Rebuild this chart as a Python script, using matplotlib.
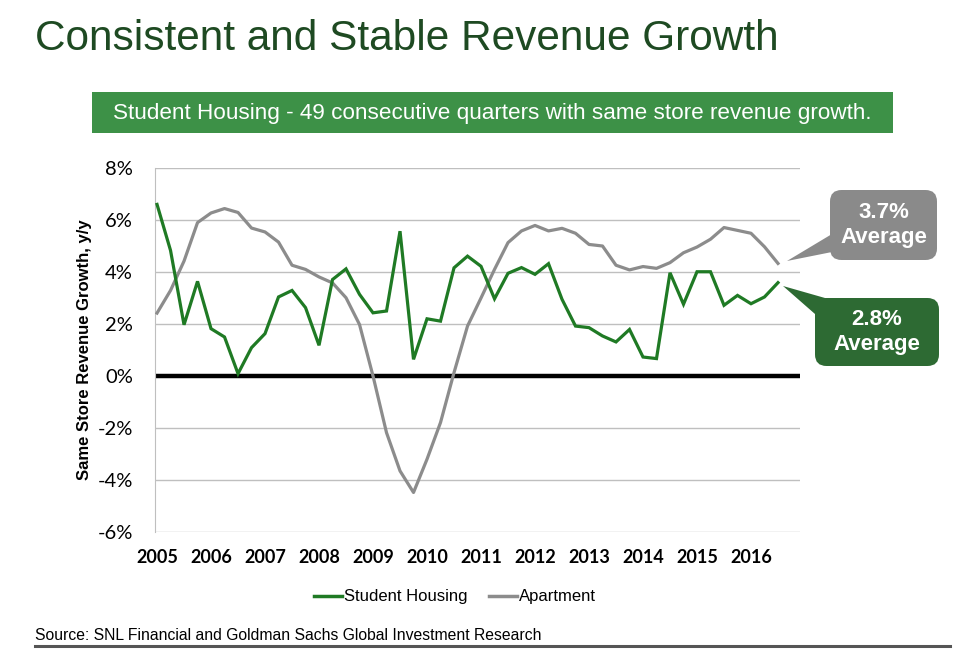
import numpy as np
import matplotlib
matplotlib.use('Agg')
import matplotlib.pyplot as plt
from matplotlib.patches import Rectangle, FancyBboxPatch, Polygon
from matplotlib.lines import Line2D
from matplotlib.ticker import FuncFormatter

# 数据：2005Q1 - 2016Q3 每季度同店收入增长 (%)
years = ['2005', '2006', '2007', '2008', '2009', '2010',
         '2011', '2012', '2013', '2014', '2015', '2016']

student_housing = [6.60, 4.83, 1.97, 3.64, 1.82, 1.50, 0.09, 1.09, 1.63, 3.04,
                   3.29, 2.63, 1.18, 3.71, 4.12, 3.14, 2.43, 2.50, 5.57, 0.64,
                   2.20, 2.11, 4.16, 4.61, 4.22, 2.97, 3.95, 4.17, 3.91, 4.32,
                   2.95, 1.92, 1.86, 1.54, 1.31, 1.79, 0.73, 0.67, 3.97, 2.76,
                   4.01, 4.01, 2.72, 3.10, 2.78, 3.04, 3.59]

apartment = [2.42, 3.29, 4.42, 5.90, 6.27, 6.44, 6.29, 5.69, 5.54, 5.15,
             4.26, 4.10, 3.81, 3.58, 3.01, 1.98, 0.00, -2.18, -3.65, -4.48,
             -3.20, -1.79, 0.13, 1.92, 3.00, 4.10, 5.13, 5.58, 5.79, 5.58,
             5.68, 5.49, 5.06, 5.00, 4.26, 4.08, 4.21, 4.14, 4.36, 4.74,
             4.96, 5.26, 5.71, 5.60, 5.49, 4.97, 4.33]

series_labels = ['Student Housing', 'Apartment']
averages = ['3.7%\nAverage', '2.8%\nAverage']

GREEN = '#1f7a24'
GRAY = '#8c8c8c'
TITLE_GREEN = '#1e4a22'
BANNER_GREEN = '#3d9147'
BOX_GREEN = '#2d6a33'
BOX_GRAY = '#8a8a8a'

W, H = 960, 655
fig = plt.figure(figsize=(W / 100, H / 100), dpi=100)
fig.patch.set_facecolor('white')


def px(x, y):
    """像素坐标 -> figure 坐标"""
    return x / W, 1 - y / H


# 标题
fig.text(*px(35, 39), 'Consistent and Stable Revenue Growth', fontsize=30.5,
         family='Liberation Sans', color=TITLE_GREEN, va='center', ha='left')

# 绿色横幅
x0, y0 = px(92, 133)
fig.patches.append(Rectangle((x0, y0), 801 / W, 41 / H, transform=fig.transFigure,
                             facecolor=BANNER_GREEN, edgecolor='none'))
fig.text(*px(492, 113), 'Student Housing - 49 consecutive quarters with same store revenue growth.',
         fontsize=16.2, family='Liberation Sans', color='white', ha='center', va='center')

# 主图
l, b = px(155, 532)
r, t = px(800, 168)
ax = fig.add_axes([l, b, r - l, t - b])

x = np.arange(len(student_housing))
ax.plot(x, apartment, color=GRAY, linewidth=2.3, solid_joinstyle='round', zorder=3)
ax.plot(x, student_housing, color=GREEN, linewidth=2.3, solid_joinstyle='miter', zorder=4)
ax.axhline(0, color='black', linewidth=3.2, zorder=2)

ax.set_xlim(-0.15, 47.63)
ax.set_ylim(-6, 8)
ax.set_yticks(np.arange(-6, 9, 2))
ax.yaxis.set_major_formatter(FuncFormatter(lambda v, p: f'{v:.0f}%'))
ax.set_xticks(np.arange(0, 4 * len(years), 4))
ax.set_xticklabels(years)

# 网格和坐标轴
ax.grid(True, axis='y', color='#bfbfbf', linewidth=1)
ax.set_axisbelow(True)
for side in ['top', 'right', 'bottom']:
    ax.spines[side].set_visible(False)
ax.spines['left'].set_color('#bfbfbf')
ax.tick_params(length=0)
ax.tick_params(axis='y', pad=16, labelsize=14.5)
ax.tick_params(axis='x', pad=12, labelsize=13)
for lab in ax.get_yticklabels():
    lab.set_family('Lato')
for lab in ax.get_xticklabels():
    lab.set_family('Lato')
    lab.set_fontweight('bold')

ax.set_ylabel('Same Store Revenue Growth, y/y', fontsize=12, fontweight='bold',
              family='Liberation Sans', labelpad=4)

# 图例
handles = [Line2D([], [], color=GREEN, linewidth=2.5),
           Line2D([], [], color=GRAY, linewidth=2.5)]
fig.legend(handles, series_labels, loc='center', bbox_to_anchor=px(455, 597), ncol=2,
           frameon=False, handlelength=1.7, handletextpad=0.1, columnspacing=1.3,
           prop={'family': 'Liberation Sans', 'size': 12})

# 平均值标注框
def callout(box, tip, base, color, text):
    bx0, by0 = px(box[0], box[3])
    bx1, by1 = px(box[2], box[1])
    fig.patches.append(FancyBboxPatch((bx0, by0), bx1 - bx0, by1 - by0,
                                      boxstyle='round,pad=0,rounding_size=0.012',
                                      transform=fig.transFigure, facecolor=color,
                                      edgecolor='none', mutation_aspect=W / H))
    pts = [px(*tip), px(*base[0]), px(*base[1])]
    fig.patches.append(Polygon(pts, closed=True, transform=fig.transFigure,
                               facecolor=color, edgecolor='none'))
    fig.text((bx0 + bx1) / 2, (by0 + by1) / 2, text, color='white', fontsize=16,
             fontweight='bold', family='Liberation Sans', ha='center', va='center',
             linespacing=1.3)


callout((830, 190, 937, 260), (787, 261), [(832, 234), (832, 252)], BOX_GRAY, averages[0])
callout((815, 298, 939, 366), (783, 286), [(815, 314), (832, 300)], BOX_GREEN, averages[1])

# 来源
fig.text(*px(35, 636), 'Source: SNL Financial and Goldman Sachs Global Investment Research',
         fontsize=11.3, family='Liberation Sans', color='black', ha='left', va='center')
fig.lines.append(Line2D([35 / W, 950 / W], [1 - 646 / H, 1 - 646 / H], transform=fig.transFigure,
                        color='#555555', linewidth=2.2))

fig.savefig('out.png', dpi=100)
